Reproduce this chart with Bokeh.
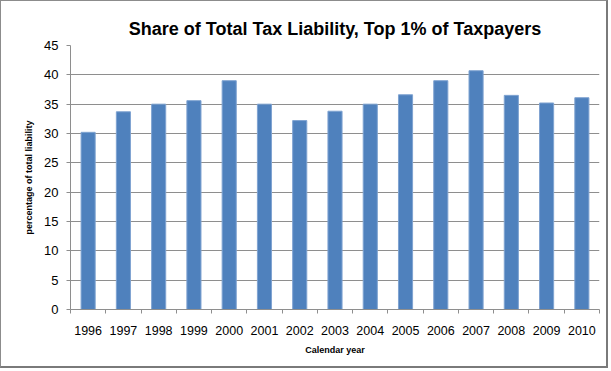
from bokeh.plotting import figure
from bokeh.models import FixedTicker, Range1d, ColumnDataSource
from bokeh.embed import file_html
from bokeh.resources import INLINE

# Share of total federal tax liability paid by the top 1% of taxpayers
years = ["1996", "1997", "1998", "1999", "2000", "2001", "2002", "2003",
         "2004", "2005", "2006", "2007", "2008", "2009", "2010"]
shares = [30.2, 33.7, 35.0, 35.6, 39.0, 35.0, 32.2, 33.8,
          35.0, 36.6, 39.0, 40.7, 36.5, 35.2, 36.1]
y_ticks = [0, 5, 10, 15, 20, 25, 30, 35, 40, 45]

GRID = "#8e8e8e"
FONT = "Liberation Sans"

pos = list(range(len(years)))
src = ColumnDataSource(dict(x=pos, share=shares))

p = figure(width=608, height=368, output_backend="svg", toolbar_location=None,
           x_range=Range1d(-0.5, len(years) - 0.5), y_range=Range1d(0, 45),
           min_border_left=69, min_border_right=10,
           min_border_top=44, min_border_bottom=60,
           title="Share of Total Tax Liability, Top 1% of Taxpayers")
p.styles = {"border-left": "1px solid #8c8c8c", "border-top": "1px solid #8c8c8c",
            "border-right": "2px solid #7a7a7a", "border-bottom": "2px solid #7a7a7a"}

p.title.text_font = FONT
p.title.text_font_size = "18px"
p.title.text_font_style = "bold"
p.title.text_color = "black"
p.title.align = "center"
p.title.standoff = 14

p.vbar(x="x", top="share", width=0.4, source=src,
       fill_color="#4F81BD", line_color="#7FA3D1", line_width=1)

p.outline_line_color = None
p.background_fill_color = "white"
p.border_fill_color = "white"

# y axis
p.yaxis.ticker = FixedTicker(ticks=y_ticks)
p.yaxis.axis_line_color = GRID
p.yaxis.major_tick_line_color = GRID
p.yaxis.major_tick_out = 4
p.yaxis.major_tick_in = 0
p.yaxis.minor_tick_line_color = None
p.yaxis.major_label_standoff = 8
p.yaxis.major_label_text_font = FONT
p.yaxis.major_label_text_font_size = "13px"
p.yaxis.major_label_text_color = "black"
p.yaxis.axis_label = "percentage of total liability"
p.yaxis.axis_label_text_font = FONT
p.yaxis.axis_label_text_font_size = "9px"
p.yaxis.axis_label_text_font_style = "bold"
p.yaxis.axis_label_text_color = "black"
p.yaxis.axis_label_standoff = 7

# x axis: labels at bar centres, tick marks between categories
p.xaxis.ticker = FixedTicker(ticks=pos, minor_ticks=[i - 0.5 for i in range(len(years) + 1)])
p.xaxis.major_label_overrides = {i: y for i, y in enumerate(years)}
p.xaxis.axis_line_color = GRID
p.xaxis.major_tick_line_color = None
p.xaxis.major_tick_out = 0
p.xaxis.major_tick_in = 0
p.xaxis.minor_tick_line_color = GRID
p.xaxis.minor_tick_out = 4
p.xaxis.minor_tick_in = 0
p.xaxis.major_label_standoff = 12
p.xaxis.major_label_text_font = FONT
p.xaxis.major_label_text_font_size = "12.5px"
p.xaxis.major_label_text_color = "black"
p.xaxis.axis_label = "Calendar year"
p.xaxis.axis_label_text_font = FONT
p.xaxis.axis_label_text_font_size = "9px"
p.xaxis.axis_label_text_font_style = "bold"
p.xaxis.axis_label_text_color = "black"
p.xaxis.axis_label_standoff = 7

p.xgrid.grid_line_color = None
p.ygrid.grid_line_color = GRID
p.ygrid.grid_line_width = 1

open("out.html", "w").write(file_html(p, INLINE))
